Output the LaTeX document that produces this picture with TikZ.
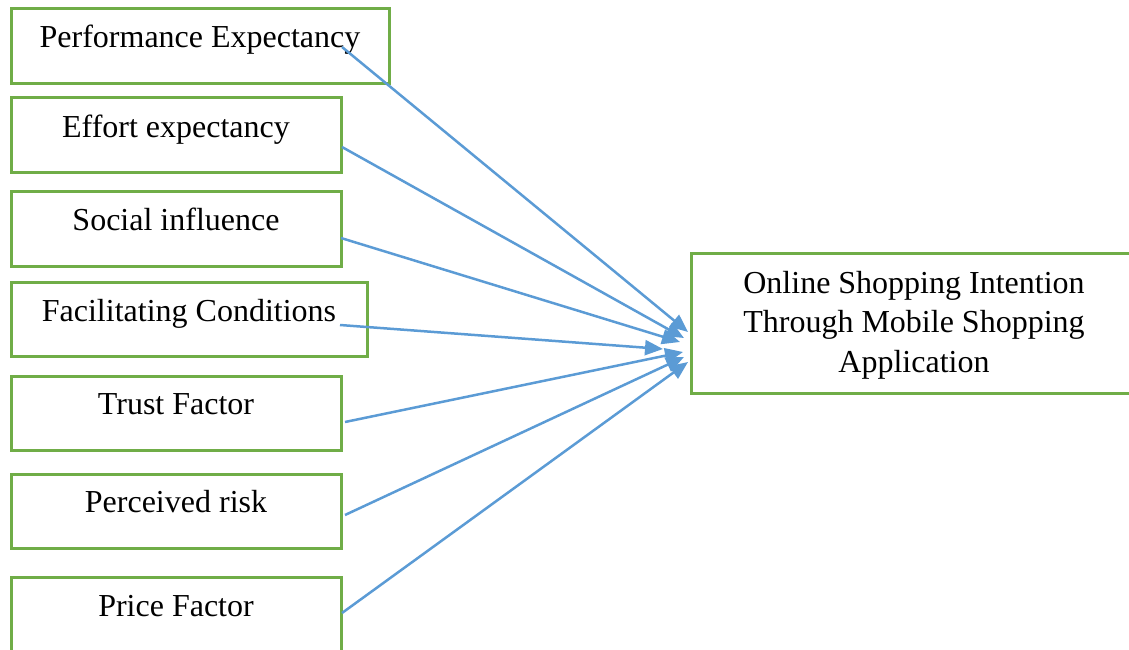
\documentclass[tikz,border=0pt]{standalone}
\usepackage{fontspec}
\setmainfont{Liberation Serif}
\usetikzlibrary{arrows.meta}
\definecolor{boxgreen}{RGB}{112,173,71}
\definecolor{arrowblue}{RGB}{91,155,213}
\begin{document}
\begin{tikzpicture}[x=1pt,y=-1pt,
  box/.style={draw=boxgreen, line width=3pt, rectangle, inner sep=0pt, outer sep=0pt, anchor=north west},
  lbl/.style={font=\fontsize{32}{39.5}\selectfont, anchor=base, inner sep=0pt},
  conn/.style={draw=arrowblue, line width=2.5pt, -{Triangle[length=18pt,width=15pt]}}]
\useasboundingbox (0,0) rectangle (1129,650);
% boxes
\node[box, minimum width=378pt, minimum height=75pt] (pe) at (11,9) {};
\node[box, minimum width=330pt, minimum height=74pt] (ee) at (11,98) {};
\node[box, minimum width=330pt, minimum height=75pt] (si) at (11,191) {};
\node[box, minimum width=356pt, minimum height=74pt] (fc) at (11,282) {};
\node[box, minimum width=330pt, minimum height=74pt] (tf) at (11,376) {};
\node[box, minimum width=330pt, minimum height=74pt] (pr) at (11,474) {};
\node[box, minimum width=330pt, minimum height=75pt] (pf) at (11,577) {};
\node[box, minimum width=446pt, minimum height=140pt] (tg) at (691,253) {};
% labels
\node[lbl] (pet) at ([yshift=-39pt]pe.north) {Performance Expectancy};
\node[lbl] (eet) at ([yshift=-39pt]ee.north) {Effort expectancy};
\node[lbl] (sit) at ([yshift=-39pt]si.north) {Social influence};
\node[lbl] (fct) at ([yshift=-39pt]fc.north) {Facilitating Conditions};
\node[lbl] (tft) at ([yshift=-38pt]tf.north) {Trust Factor};
\node[lbl] (prt) at ([yshift=-38pt]pr.north) {Perceived risk};
\node[lbl] (pft) at ([yshift=-39pt]pf.north) {Price Factor};
\node[lbl, align=center] (tgt) at ([yshift=-119pt]tg.north) {Online Shopping Intention\\Through Mobile Shopping\\Application};
% connector ends
\coordinate (s1) at (342,47);
\coordinate (s2) at (342,147);
\coordinate (s3) at (341,238);
\coordinate (s4) at (340,325);
\coordinate (s5) at (345,422);
\coordinate (s6) at (345,515);
\coordinate (s7) at (342,613);
\coordinate (e1) at (688,332);
\coordinate (e2) at (684,338);
\coordinate (e3) at (680,342);
\coordinate (e4) at (663,349);
\coordinate (e5) at (683,352);
\coordinate (e6) at (684,357);
\coordinate (e7) at (688,362);
\draw[conn] (s1) -- (e1);
\draw[conn] (s2) -- (e2);
\draw[conn] (s3) -- (e3);
\draw[conn] (s4) -- (e4);
\draw[conn] (s5) -- (e5);
\draw[conn] (s6) -- (e6);
\draw[conn] (s7) -- (e7);
\end{tikzpicture}
\end{document}
